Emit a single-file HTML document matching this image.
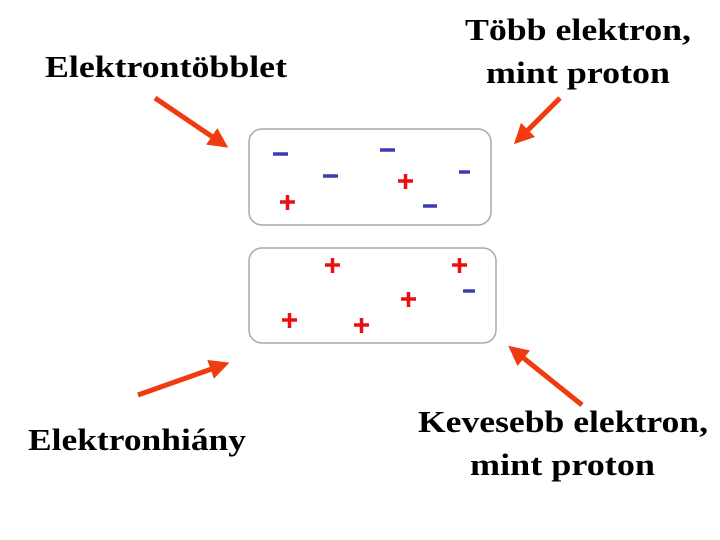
<!DOCTYPE html>
<html><head><meta charset="utf-8"><style>html,body{margin:0;padding:0;background:#fff}svg{display:block}</style></head><body>
<svg width="720" height="540" viewBox="0 0 720 540" xmlns="http://www.w3.org/2000/svg">
<defs>
<marker id="ah" markerWidth="4" markerHeight="4" refX="2" refY="2" orient="auto" markerUnits="strokeWidth">
<path d="M0,0 L4,2 L0,4 z" fill="#f03a10"/></marker>
</defs>
<g font-family="Liberation Serif, serif" font-weight="bold" font-size="31" fill="#000">
<text x="45" y="77" textLength="242" lengthAdjust="spacingAndGlyphs">Elektrontöbblet</text>
<text x="465" y="40" textLength="226" lengthAdjust="spacingAndGlyphs">Több elektron,</text>
<text x="486" y="83" textLength="184" lengthAdjust="spacingAndGlyphs">mint proton</text>
<text x="28" y="450" textLength="218" lengthAdjust="spacingAndGlyphs">Elektronhiány</text>
<text x="418" y="432" textLength="290" lengthAdjust="spacingAndGlyphs">Kevesebb elektron,</text>
<text x="470" y="475" textLength="185" lengthAdjust="spacingAndGlyphs">mint proton</text>
</g>
<rect x="249" y="129" width="242" height="96" rx="13" fill="none" stroke="#aaa" stroke-width="1.5"/>
<rect x="249" y="248" width="247" height="95" rx="13" fill="none" stroke="#aaa" stroke-width="1.5"/>
<g stroke="#3c3cb4" stroke-width="3.5">
<line x1="273" y1="154" x2="288" y2="154"/>
<line x1="380" y1="150" x2="395" y2="150"/>
<line x1="323" y1="176" x2="338" y2="176"/>
<line x1="459" y1="172" x2="470" y2="172"/>
<line x1="423" y1="206" x2="437" y2="206"/>
<line x1="463" y1="291" x2="475" y2="291"/>
</g>
<g stroke="#e81010" stroke-width="3.5" id="p">
<path d="M280,202h15M287.5,195v15"/>
<path d="M398,181h15M405.5,174v15"/>
<path d="M325,265h15M332.5,258v15"/>
<path d="M452,265h15M459.5,258v15"/>
<path d="M401,299h15M408.5,292v15"/>
<path d="M282,320h15M289.5,313v15"/>
<path d="M354,325h15M361.5,318v15"/>
</g>
<g stroke="#f03a10" stroke-width="5" marker-end="url(#ah)">
<line x1="155" y1="98" x2="220" y2="142"/>
<line x1="560" y1="98" x2="521" y2="137"/>
<line x1="138" y1="395" x2="220" y2="366"/>
<line x1="582" y1="405" x2="516" y2="352"/>
</g>
</svg>
</body></html>
